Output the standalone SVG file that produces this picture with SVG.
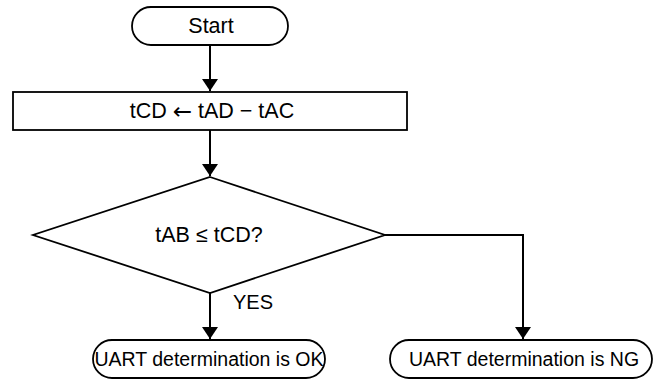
<svg xmlns="http://www.w3.org/2000/svg" width="654" height="381" viewBox="0 0 654 381">
<style>
.n{fill:#fff;stroke:#000;stroke-width:1.8}
.t{font-family:"Liberation Sans",Arial,sans-serif;font-size:21.5px;fill:#000;text-anchor:middle;dominant-baseline:central}
.sm{font-size:19.5px}
.y{font-size:20px}
.s{font-family:"DejaVu Sans",sans-serif;font-size:23px}
.c{fill:none;stroke:#000;stroke-width:2}
</style>
<defs>
<marker id="ah" viewBox="0 0 12 16" refX="12" refY="8" markerWidth="12" markerHeight="16" markerUnits="userSpaceOnUse" orient="auto">
<path d="M0,0 L12,8 L0,16 Z" fill="#000"/>
</marker>
</defs>
<g id="connectors">
<line class="c" x1="210" y1="45" x2="210" y2="91" marker-end="url(#ah)"/>
<line class="c" x1="210" y1="130" x2="210" y2="176" marker-end="url(#ah)"/>
<line class="c" x1="210" y1="293" x2="210" y2="339" marker-end="url(#ah)"/>
<polyline class="c" points="385,235 523,235 523,339" marker-end="url(#ah)"/>
</g>
<g id="start">
<rect class="n" x="132" y="7" width="156" height="38" rx="19"/>
<text class="t" x="211" y="26">Start</text>
</g>
<g id="compute">
<rect class="n" x="13" y="92" width="394" height="38"/>
<text class="t" x="212" y="111">tCD <tspan class="s">←</tspan> tAD − tAC</text>
</g>
<g id="decision">
<polygon class="n" points="210,177 385,235 210,293 33,235"/>
<text class="t" x="209" y="235">tAB ≤ tCD?</text>
</g>
<text class="t y" x="253" y="302">YES</text>
<g id="ok">
<rect class="n" x="93" y="340" width="232" height="38" rx="19"/>
<text class="t sm" x="209" y="359">UART determination is OK</text>
</g>
<g id="ng">
<rect class="n" x="390" y="340" width="262" height="38" rx="19"/>
<text class="t sm" x="524" y="359">UART determination is NG</text>
</g>
</svg>
